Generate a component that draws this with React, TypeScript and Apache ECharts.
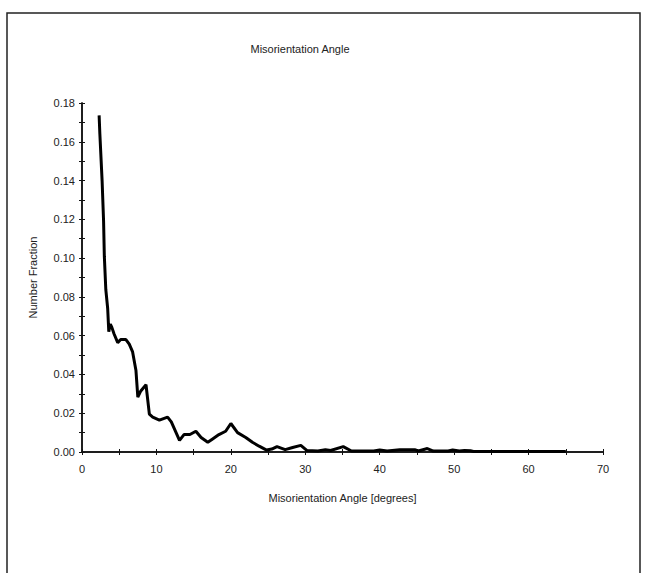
import React, { useEffect, useRef } from "react";
import * as echarts from "echarts";

const chartTitle = "Misorientation Angle";
const xAxisTitle = "Misorientation Angle [degrees]";
const yAxisTitle = "Number Fraction";

const angles = [
  2.3, 2.4, 2.7, 2.9, 3.0, 3.2, 3.45, 3.6, 3.8, 4.0, 4.3, 4.8, 5.2, 5.9, 6.35,
  6.8, 7.25, 7.5, 7.9, 8.6, 9.05, 9.5, 10.4, 11.5, 12.0, 13.1, 13.7, 14.5, 15.3,
  16.0, 16.9, 17.5, 18.4, 19.3, 20.0, 20.9, 22.0, 22.9, 23.8, 24.8, 25.5, 26.2,
  27.3, 28.3, 29.4, 30.2, 31.7, 32.7, 33.4, 35.1, 36.2, 39.2, 40.0, 41.0, 42.7,
  44.7, 45.2, 46.4, 47.2, 49.2, 49.8, 50.7, 51.4, 52.2, 52.6, 55.0, 58.0, 60.0,
  62.0, 65.0,
];
const fractions = [
  0.1736, 0.164, 0.14, 0.119, 0.101, 0.0837, 0.074, 0.062, 0.066, 0.0644,
  0.061, 0.0564, 0.058, 0.058, 0.0556, 0.0516, 0.042, 0.0283, 0.0315, 0.0347,
  0.0195, 0.018, 0.0164, 0.018, 0.0155, 0.006, 0.009, 0.009, 0.0107, 0.0075,
  0.005, 0.0066, 0.009, 0.0107, 0.0147, 0.01, 0.0075, 0.005, 0.003, 0.001,
  0.0015, 0.0028, 0.0012, 0.0023, 0.0034, 0.0008, 0.0005, 0.0012, 0.0008,
  0.0028, 0.0005, 0.0005, 0.001, 0.0005, 0.0012, 0.0012, 0.0005, 0.0018,
  0.0005, 0.0005, 0.001, 0.0005, 0.0008, 0.0006, 0.0003, 0.0002, 0.0002,
  0.0002, 0.0002, 0.0002,
];

const xMin = 0;
const xMax = 70;
const xStep = 10;
const yMin = 0;
const yMax = 0.18;
const yStep = 0.02;

export default function App() {
  const ref = useRef<HTMLDivElement>(null);
  useEffect(() => {
    if (!ref.current) return;
    const chart = echarts.init(ref.current, undefined, { renderer: "svg" });
    const font = "Liberation Sans";
    const lineCol = "#111";
    const textCol = "#222";
    const baseX = (inside: boolean, main: boolean) => ({
      type: "value",
      min: xMin,
      max: xMax,
      interval: xStep,
      position: "bottom",
      offset: 0,
      axisLine: { show: true, lineStyle: { color: lineCol, width: 1.5 } },
      axisTick: { show: true, inside, length: 3, lineStyle: { color: lineCol, width: 1 } },
      minorTick: { show: true, splitNumber: 2, length: 3, lineStyle: { color: lineCol, width: 1 } },
      axisLabel: {
        show: main,
        color: textCol,
        fontFamily: font,
        fontSize: 11,
        margin: 11,
      },
      splitLine: { show: false },
      minorSplitLine: { show: false },
      name: main ? xAxisTitle : "",
      nameLocation: "middle",
      nameGap: 40,
      nameTextStyle: { color: textCol, fontFamily: font, fontSize: 11 },
    });
    const baseY = (inside: boolean, main: boolean) => ({
      type: "value",
      min: yMin,
      max: yMax,
      interval: yStep,
      position: "left",
      offset: 0,
      axisLine: { show: true, lineStyle: { color: lineCol, width: 1.5 } },
      axisTick: { show: true, inside, length: 3, lineStyle: { color: lineCol, width: 1 } },
      minorTick: { show: true, splitNumber: 2, length: 3, lineStyle: { color: lineCol, width: 1 } },
      axisLabel: {
        show: main,
        color: textCol,
        fontFamily: font,
        fontSize: 11,
        margin: 7,
        formatter: (v: number) => v.toFixed(2),
      },
      splitLine: { show: false },
      minorSplitLine: { show: false },
      name: main ? yAxisTitle : "",
      nameLocation: "middle",
      nameRotate: 90,
      nameGap: 44,
      nameTextStyle: { color: textCol, fontFamily: font, fontSize: 11 },
    });
    chart.setOption({
      animation: false,
      backgroundColor: "#fff",
      title: {
        text: chartTitle,
        left: 295,
        top: 38,
        textAlign: "center",
        textStyle: { color: "#222", fontFamily: font, fontSize: 11, fontWeight: "normal" },
      },
      grid: { left: 82, right: 47, top: 103, bottom: 121, containLabel: false },
      xAxis: [baseX(false, true), baseX(true, false)],
      yAxis: [baseY(false, true), baseY(true, false)],
      series: [
        {
          type: "line",
          xAxisIndex: 0,
          yAxisIndex: 0,
          data: angles.map((a, i) => [a, fractions[i]]),
          showSymbol: false,
          symbol: "none",
          lineStyle: { color: "#000", width: 3 },
          z: 5,
        },
      ],
      graphic: [
        {
          type: "polyline",
          shape: { points: [[7, 573], [7, 13], [640, 13], [640, 573]] },
          style: { stroke: "#222", lineWidth: 1.5, fill: "none" },
          silent: true,
        },
      ],
    });
    return () => chart.dispose();
  }, []);
  return (
    <div
      ref={ref}
      style={{ position: "fixed", left: 0, top: 0, width: 650, height: 573, background: "#fff" }}
    />
  );
}
